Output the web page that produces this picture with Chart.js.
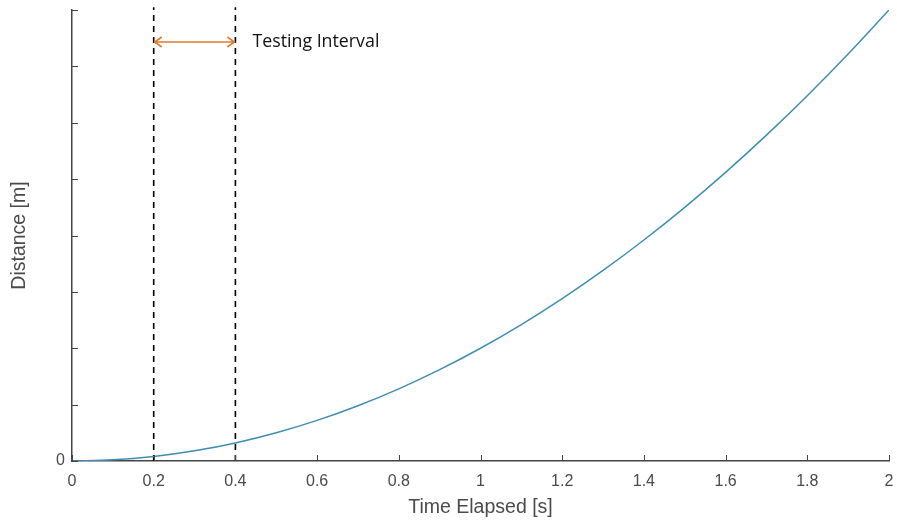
<!DOCTYPE html>
<html>
<head>
<meta charset="utf-8">
<script src="https://cdn.jsdelivr.net/npm/chart.js@4/dist/chart.umd.min.js"></script>
<style>
  html, body { margin: 0; padding: 0; background: #fff; }
  #wrap { width: 897px; height: 523px; position: relative; }
</style>
</head>
<body>
<div id="wrap"><canvas id="chart"></canvas></div>
<script>
// tiempo [s] y distancia
const timeValues = [0, 0.1, 0.2, 0.3, 0.4, 0.5, 0.6, 0.7, 0.8, 0.9, 1.0,
  1.1, 1.2, 1.3, 1.4, 1.5, 1.6, 1.7, 1.8, 1.9, 2.0];
const distanceValues = [0, 0.02, 0.08, 0.18, 0.32, 0.5, 0.72, 0.98, 1.28, 1.62, 2.0,
  2.42, 2.88, 3.38, 3.92, 4.5, 5.12, 5.78, 6.48, 7.22, 8.0];
const intervalStart = 0.2;
const intervalEnd = 0.4;
const intervalLabel = 'Testing Interval';
const xTickLabels = ['0', '0.2', '0.4', '0.6', '0.8', '1', '1.2', '1.4', '1.6', '1.8', '2'];

const axisColor = '#444';
const textColor = '#4a4a4a';

// marcas de los ejes hacia dentro + flecha del intervalo
const extras = {
  id: 'extras',
  afterDraw(chart) {
    const ctx = chart.ctx;
    const xs = chart.scales.x;
    const ys = chart.scales.y;
    ctx.save();
    ctx.strokeStyle = axisColor;
    ctx.lineWidth = 1;
    ctx.beginPath();
    xs.ticks.forEach(t => {
      const px = Math.round(xs.getPixelForValue(t.value)) + 0.5;
      ctx.moveTo(px, ys.bottom);
      ctx.lineTo(px, ys.bottom - 6);
    });
    ys.ticks.forEach(t => {
      const py = Math.round(ys.getPixelForValue(t.value)) + 0.5;
      ctx.moveTo(xs.left, py);
      ctx.lineTo(xs.left + 6, py);
    });
    ctx.stroke();

    // flecha
    const x1 = xs.getPixelForValue(intervalStart) + 1;
    const x2 = xs.getPixelForValue(intervalEnd) - 1;
    const y = 42;
    ctx.strokeStyle = '#e07b2c';
    ctx.lineWidth = 1.6;
    ctx.beginPath();
    ctx.moveTo(x1, y); ctx.lineTo(x2, y);
    ctx.moveTo(x1 + 7, y - 5); ctx.lineTo(x1, y); ctx.lineTo(x1 + 7, y + 5);
    ctx.moveTo(x2 - 7, y - 5); ctx.lineTo(x2, y); ctx.lineTo(x2 - 7, y + 5);
    ctx.stroke();

    ctx.fillStyle = '#111';
    ctx.font = '17.8px "Open Sans", sans-serif';
    ctx.textBaseline = 'middle';
    ctx.fillText(intervalLabel, xs.getPixelForValue(intervalEnd) + 17, y);
    ctx.restore();
  }
};

const dashed = (xv) => ({
  data: [{ x: xv, y: 0 }, { x: xv, y: 8.05 }],
  borderColor: '#000',
  borderWidth: 1.6,
  borderDash: [6, 5],
  pointRadius: 0,
  clip: false
});

new Chart(document.getElementById('chart'), {
  type: 'line',
  data: {
    datasets: [
      {
        data: timeValues.map((t, i) => ({ x: t, y: distanceValues[i] })),
        borderColor: '#3f8db3',
        borderWidth: 1.5,
        pointRadius: 0,
        tension: 0.3,
        cubicInterpolationMode: 'monotone'
      },
      dashed(intervalStart),
      dashed(intervalEnd)
    ]
  },
  plugins: [extras],
  options: {
    responsive: true,
    maintainAspectRatio: false,
    animation: false,
    layout: { padding: { top: 10, right: 8, left: 0, bottom: 0 } },
    plugins: { legend: { display: false }, tooltip: { enabled: false } },
    scales: {
      x: {
        type: 'linear',
        min: 0,
        max: 2,
        ticks: {
          stepSize: 0.2,
          color: textColor,
          font: { family: 'Liberation Sans, Arial, sans-serif', size: 16 },
          padding: 11,
          maxRotation: 0,
          callback: (v, i) => xTickLabels[i]
        },
        grid: { display: false, drawTicks: false },
        border: { color: axisColor, width: 1.5 },
        title: {
          display: true,
          text: 'Time Elapsed [s]',
          color: textColor,
          font: { family: 'Liberation Sans, Arial, sans-serif', size: 19.5 },
          padding: { top: 2 }
        },
        afterFit: s => {
          s.height = 62;
          s.paddingLeft = 0;
          s.paddingRight = 0;
        }
      },
      y: {
        min: 0,
        max: 8,
        ticks: {
          stepSize: 1,
          color: textColor,
          font: { family: 'Liberation Sans, Arial, sans-serif', size: 16 },
          padding: 7,
          callback: v => (v === 0 ? '0' : '')
        },
        grid: { display: false, drawTicks: false },
        border: { color: axisColor, width: 1.5 },
        title: {
          display: true,
          text: 'Distance [m]',
          color: textColor,
          font: { family: 'Liberation Sans, Arial, sans-serif', size: 19.5 },
          padding: { top: 8, bottom: 0 }
        },
        afterFit: s => {
          s.width = 72;
          s.paddingTop = 0;
          s.paddingBottom = 0;
        }
      }
    }
  }
});
</script>
</body>
</html>
